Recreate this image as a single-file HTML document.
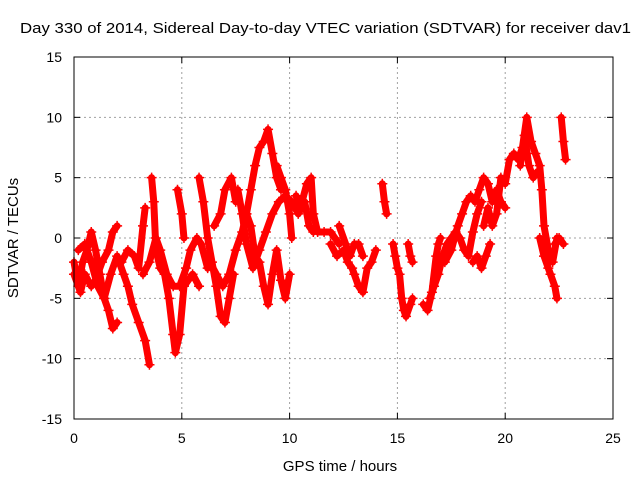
<!DOCTYPE html>
<html><head><meta charset="utf-8"><style>
body{margin:0;background:#fff}
svg{display:block;font-family:"Liberation Sans",sans-serif}
</style></head><body>
<svg id="chart" width="640" height="480" viewBox="0 0 640 480" xmlns="http://www.w3.org/2000/svg">
<text x="20" y="33" font-size="15" textLength="611" lengthAdjust="spacingAndGlyphs">Day 330 of 2014, Sidereal Day-to-day VTEC variation (SDTVAR) for receiver dav1</text>
<g id="grid"></g>
<g id="ticks"></g>
<g id="series"></g>
<rect x="74" y="57" width="539" height="362" fill="none" stroke="#000" stroke-width="1"/>
<text x="340" y="471" font-size="15" text-anchor="middle">GPS time / hours</text>
<text x="0" y="0" font-size="15" text-anchor="middle" transform="translate(18,238) rotate(-90)">SDTVAR / TECUs</text>
</svg>
<script>
const xTicks=[0,5,10,15,20,25];
const yTicks=[-15,-10,-5,0,5,10,15];
const tracks=[
[[0,-2],[0.2,-4],[0.4,-2],[0.6,-1],[0.8,0.5],[1,-1],[1.2,-3],[1.4,-5],[1.6,-6],[1.8,-7.5],[2,-7]],
[[0,-3],[0.3,-4.5],[0.5,-3],[0.8,-4],[1.0,-3.5],[1.3,-2],[1.6,-1],[1.8,0.5],[2.0,1]],
[[0.2,-1],[0.5,-0.5],[0.8,-2],[1.1,-4],[1.4,-5],[1.7,-3],[2,-1.5],[2.3,-3],[2.5,-4],[2.7,-5.5],[3,-7],[3.3,-8.5],[3.5,-10.5]],
[[2.2,-2],[2.5,-1],[2.8,-1.5],[3.0,-2.5],[3.2,1],[3.3,2.5]],
[[3.6,5],[3.7,3],[3.8,-1],[4.0,-2.5],[4.2,-3],[4.4,-5],[4.6,-8],[4.7,-9.5],[4.9,-8],[5.1,-4],[5.3,-3.5],[5.5,-3],[5.8,-4]],
[[3.2,-3],[3.5,-2],[3.8,0],[4.0,-1],[4.3,-3],[4.6,-4],[4.9,-4],[5.2,-2.5],[5.4,-1],[5.7,0],[5.9,-0.5],[6.2,-2.5]],
[[4.8,4],[5,2],[5.1,0]],
[[5.8,5],[6.0,3],[6.2,0],[6.4,-2],[6.6,-4],[6.8,-6.5],[7,-7],[7.2,-5],[7.4,-3]],
[[6.5,1],[6.8,2],[7.0,4],[7.3,5],[7.5,3]],
[[6.3,-2],[6.6,-3],[6.9,-4],[7.2,-3],[7.5,-1],[7.8,0.5],[8.0,2],[8.2,4],[8.4,6],[8.6,7.5],[8.8,8],[9.0,9],[9.2,7],[9.4,5],[9.6,4]],
[[8,2],[8.2,1],[8.4,-1.5],[8.6,-2],[8.8,-4],[9,-5.5],[9.2,-3],[9.4,-1],[9.6,-3.5],[9.8,-5],[10,-3]],
[[7.6,4],[7.8,2],[8.0,-0.5],[8.3,-2.5],[8.6,-1],[8.9,0.5],[9.2,2],[9.5,3],[9.8,3.5],[10.1,3],[10.4,2],[10.7,3],[10.9,1],[11.1,0.5]],
[[9.4,6],[9.6,5],[9.8,4],[10,2],[10.1,0]],
[[10.3,3.5],[10.5,2.5],[10.8,4.5],[11,5],[11.1,2],[11.3,0.5],[11.6,0.5],[11.9,0.5],[12.1,0],[12.3,-0.5]],
[[11.9,-0.5],[12.2,-1.5],[12.5,-1],[12.7,-2],[12.9,-2.5],[13.0,-3],[13.2,-4],[13.4,-4.5],[13.6,-2.5],[13.8,-2],[14,-1]],
[[12.3,1],[12.6,-0.5],[12.8,-1.5],[13,-0.5],[13.2,-0.5],[13.4,-1.5]],
[[14.3,4.5],[14.4,3],[14.5,2]],
[[14.8,-0.5],[14.9,-1.5],[15,-2.5],[15.1,-3],[15.2,-5],[15.3,-6],[15.4,-6.5],[15.6,-5.5],[15.7,-5]],
[[15.5,-0.5],[15.6,-1.5],[15.7,-2]],
[[16.2,-5.5],[16.4,-6],[16.6,-4.5],[16.8,-1.5],[16.9,-0.5],[17,0]],
[[16.5,-5],[16.7,-4],[16.9,-3],[17.1,-1.5],[17.3,-0.5],[17.5,0],[17.7,0.5],[17.9,0],[18.1,-1],[18.3,-1.5],[18.5,0.5],[18.7,2],[18.9,3]],
[[17.2,-2],[17.5,-1],[17.8,1],[18.0,2],[18.2,3],[18.4,3.5],[18.6,3],[18.8,4],[19.0,5],[19.2,4.5],[19.4,3],[19.6,4],[19.8,3],[20,2.5]],
[[18.5,-2],[18.7,-1.5],[18.9,-2.5],[19.1,-1.5],[19.3,-0.5]],
[[19,1],[19.2,2.5],[19.4,1],[19.6,2],[19.8,5],[20,4.5],[20.2,6.5],[20.4,7],[20.6,6.5],[20.8,7.5],[21,10],[21.2,8],[21.4,7],[21.6,6],[21.7,4],[21.8,1],[22,-1],[22.2,-2],[22.4,0]],
[[20.7,6],[20.9,8.5],[21.1,6],[21.3,5],[21.5,5.5]],
[[21.6,0],[21.8,-1.5],[22.0,-2.5],[22.1,-3],[22.3,-4],[22.4,-5]],
[[22.6,10],[22.7,8],[22.8,6.5]],
[[22.3,-0.5],[22.5,0],[22.7,-0.5]]
];
const NS='http://www.w3.org/2000/svg';
const X=v=>74+v*539/25, Y=v=>238-v*362/30;
function mk(t,a,p){const e=document.createElementNS(NS,t);for(const k in a)e.setAttribute(k,a[k]);p.appendChild(e);return e;}
const grid=document.getElementById('grid'),ticks=document.getElementById('ticks'),ser=document.getElementById('series');
xTicks.forEach(t=>{
  if(t>0&&t<25){const l=mk('line',{x1:X(t),x2:X(t),y1:57,y2:419,stroke:'#a0a0a0','stroke-dasharray':'2,3'},grid);
  
  }
  const tx=mk('text',{x:X(t),y:443,'font-size':14,'text-anchor':'middle'},ticks);tx.textContent=t;
  
  
  mk('line',{x1:X(t),x2:X(t),y1:419,y2:413,stroke:'#000'},ticks);
  mk('line',{x1:X(t),x2:X(t),y1:57,y2:63,stroke:'#000'},ticks);
});
yTicks.forEach(t=>{
  if(t>-15&&t<15){const l=mk('line',{x1:74,x2:613,y1:Y(t),y2:Y(t),stroke:'#a0a0a0','stroke-dasharray':'2,3'},grid);
  
  }
  const tx=mk('text',{x:62,y:Y(t)+5,'font-size':14,'text-anchor':'end'},ticks);tx.textContent=t;
  
  
  mk('line',{x1:74,x2:80,y1:Y(t),y2:Y(t),stroke:'#000'},ticks);
  mk('line',{x1:613,x2:607,y1:Y(t),y2:Y(t),stroke:'#000'},ticks);
});
tracks.forEach((tr,i)=>{
  const g=mk('g',{},ser);
  
  
  mk('polyline',{points:tr.map(p=>X(p[0])+','+Y(p[1])).join(' '),fill:'none',stroke:'#ff0000','stroke-width':7,'stroke-linejoin':'round','stroke-linecap':'round'},g);
  let d='';
  tr.forEach(p=>{const x=X(p[0]),y=Y(p[1]);d+=`M${x-5},${y}h10M${x},${y-5}v10`;});
  mk('path',{d:d,stroke:'#ff0000','stroke-width':1.5,fill:'none'},g);
});
</script>
</body></html>
